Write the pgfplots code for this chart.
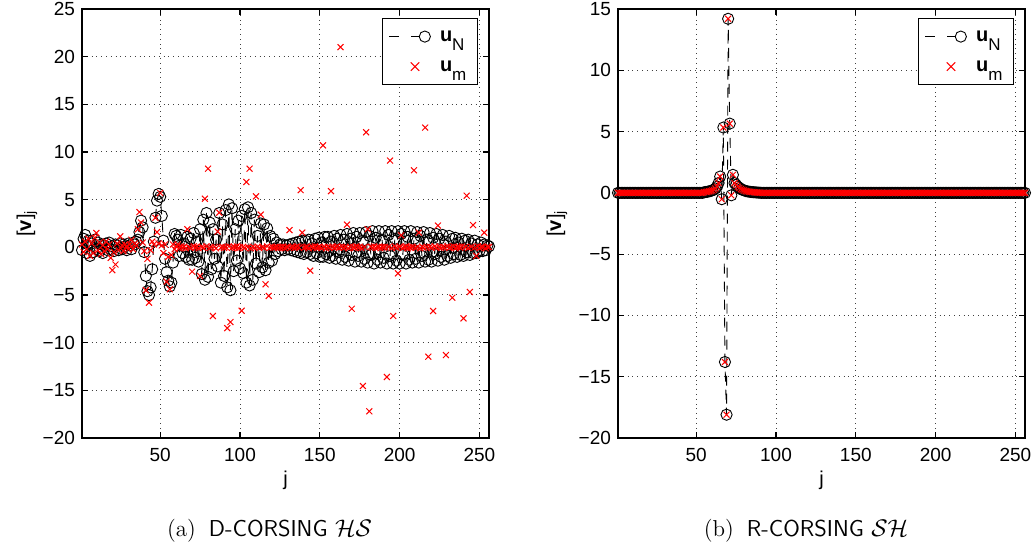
\documentclass[border=0pt]{standalone}
\usepackage{fontspec}
\usepackage{pgfplots}
\usepackage{pgfplotstable}
\pgfplotsset{compat=1.18}
\newfontfamily\hv{Liberation Sans}

% left panel: j, u_N, u_m
\pgfplotstableread[row sep=\\]{
j uN um\\
1 -0.3 0.3\\ 2 0.9 -0.5\\ 3 1.3 0.6\\ 4 -0.6 -0.2\\ 5 0.7 0.9\\ 6 -0.9 -0.9\\ 7 0.4 0.4\\ 8 -0.5 -0.6\\ 9 0.8 1.0\\ 10 -0.2 1.5\\
11 0.5 -0.3\\ 12 -0.4 0.5\\ 13 0.3 -0.7\\ 14 -0.6 0.2\\ 15 0.2 -0.4\\ 16 0.4 0.6\\ 17 -0.3 -0.2\\ 18 0.5 0.3\\ 19 -0.2 -1.1\\ 20 0.1 -2.4\\
21 -0.4 -0.5\\ 22 0.3 -1.8\\ 23 0.2 0.4\\ 24 -0.3 -0.3\\ 25 0.4 1.15\\ 26 -0.2 0.2\\ 27 0.3 -0.4\\ 28 0.1 0.3\\ 29 -0.3 0.1\\ 30 0.4 -0.2\\
31 0.2 0.3\\ 32 -0.2 0.8\\ 33 0.5 -0.2\\ 34 0.3 0.4\\ 35 0.6 0.2\\ 36 0.8 1.9\\ 37 1.6 3.7\\ 38 2.8 2.6\\ 39 2.1 0.5\\ 40 -0.5 -0.4\\
41 -3.0 -4.5\\ 42 -4.6 -1.2\\ 43 -5.0 -5.8\\ 44 -4.2 -0.3\\ 45 -2.3 0.6\\ 46 0.6 0.3\\ 47 3.1 3.1\\ 48 4.9 1.6\\ 49 5.6 0.4\\ 50 5.3 5.7\\
51 3.3 0.2\\ 52 0.7 -0.6\\ 53 -1.2 0.3\\ 54 -2.6 -3.6\\ 55 -3.5 -1.0\\ 56 -4.1 -4.4\\ 57 -3.7 -0.8\\ 58 -1.6 0.3\\ 59 1.4 -0.2\\ 60 1.2 0.1\\
61 0.8 0.3\\ 62 -0.9 -0.1\\ 63 1.3 0.1\\ 64 -0.6 -0.03\\ 65 0.4 0.06\\ 66 -1.0 -0.1\\ 67 1.1 1.9\\ 68 -1.3 0.03\\ 69 0.9 -0.06\\ 70 -1.3 -2.55\\
71 1.5 0.1\\ 72 -1.1 -0.03\\ 73 0.6 0.06\\ 74 -1.5 -0.1\\ 75 1.9 -3.0\\ 76 -2.8 0.06\\ 77 2.9 -0.03\\ 78 -3.4 5.1\\ 79 3.6 0.1\\ 80 -3.1 8.25\\
81 2.6 -0.06\\ 82 -2.3 0.03\\ 83 1.9 -7.2\\ 84 -1.2 0.06\\ 85 0.8 -0.1\\ 86 -2.0 1.65\\ 87 3.6 3.64\\ 88 -3.7 -0.03\\ 89 2.4 0.06\\ 90 -3.0 -0.06\\
91 3.9 0.03\\ 92 -4.2 -8.47\\ 93 4.5 0.1\\ 94 -4.5 -7.84\\ 95 4.1 -0.06\\ 96 -2.5 0.06\\ 97 1.9 -0.03\\ 98 -1.4 0.1\\ 99 2.8 -0.1\\ 100 -2.2 0.03\\
101 3.3 -6.65\\ 102 -2.7 0.06\\ 103 4.0 -0.06\\ 104 -3.7 6.85\\ 105 4.2 0.03\\ 106 -4.0 8.25\\ 107 3.6 -0.1\\ 108 -3.4 0.06\\ 109 2.9 -0.03\\ 110 -1.7 5.35\\
111 1.2 0.06\\ 112 -2.6 -0.06\\ 113 2.5 3.43\\ 114 -2.1 0.03\\ 115 2.4 -0.06\\ 116 -2.4 -3.88\\ 117 2.0 0.1\\ 118 -1.6 -5.1\\ 119 1.2 -0.03\\ 120 -1.4 0.06\\
121 0.9 -0.03\\ 122 -0.7 0.03\\ 123 0.5 0.06\\ 124 -0.4 -0.06\\ 125 0.3 0.03\\ 126 -0.2 -0.03\\ 127 0.3 0.06\\ 128 -0.3 -0.1\\ 129 0.2 0.03\\ 130 -0.2 0.06\\
131 0.3 1.8\\ 132 -0.3 -0.03\\ 133 0.4 0.06\\ 134 -0.4 -0.06\\ 135 0.5 0.03\\ 136 -0.5 0.1\\ 137 0.6 -0.03\\ 138 -0.6 6.0\\ 139 0.7 1.54\\ 140 -0.7 -0.06\\
141 0.7 0.03\\ 142 -0.5 0.06\\ 143 0.8 -0.1\\ 144 -0.7 -2.45\\ 145 0.4 0.06\\ 146 -0.9 -0.03\\ 147 0.9 0.1\\ 148 -0.6 -0.06\\ 149 1.0 0.03\\ 150 -1.0 0.06\\
151 0.5 -0.06\\ 152 -1.0 10.7\\ 153 1.1 0.03\\ 154 -0.7 -0.1\\ 155 1.1 0.06\\ 156 -1.1 -0.03\\ 157 0.6 5.9\\ 158 -0.9 0.06\\ 159 1.2 -0.06\\ 160 -1.2 0.03\\
161 0.9 0.1\\ 162 -0.5 -0.03\\ 163 1.3 21.0\\ 164 -1.3 0.06\\ 165 0.8 -0.06\\ 166 -1.0 0.03\\ 167 1.4 2.38\\ 168 -1.4 -0.1\\ 169 0.9 0.06\\ 170 -0.8 -6.44\\
171 1.5 0.03\\ 172 -1.5 -0.06\\ 173 1.1 0.1\\ 174 -0.9 -0.03\\ 175 1.5 0.06\\ 176 -1.5 -0.06\\ 177 0.7 -14.55\\ 178 -1.2 0.03\\ 179 1.6 12.07\\ 180 -1.6 1.9\\
181 1.2 -17.2\\ 182 -0.8 0.06\\ 183 1.7 -0.03\\ 184 -1.7 0.1\\ 185 1.0 -0.06\\ 186 -1.3 0.03\\ 187 1.7 0.06\\ 188 -1.6 -0.1\\ 189 0.8 0.03\\ 190 -1.1 -0.03\\
191 1.7 0.06\\ 192 -1.7 -13.6\\ 193 1.3 0.03\\ 194 -0.9 9.1\\ 195 1.7 -0.06\\ 196 -1.7 -7.2\\ 197 0.9 0.1\\ 198 -1.4 -0.03\\ 199 1.7 -2.73\\ 200 -1.7 0.06\\
201 1.4 1.26\\ 202 -0.8 -0.06\\ 203 1.7 0.03\\ 204 -1.7 0.1\\ 205 1.1 -0.1\\ 206 -1.3 0.03\\ 207 1.7 -0.03\\ 208 -1.6 0.06\\ 209 0.9 8.08\\ 210 -1.2 -0.06\\
211 1.6 0.03\\ 212 -1.6 1.54\\ 213 1.2 -0.1\\ 214 -0.9 0.06\\ 215 1.6 -0.03\\ 216 -1.5 12.56\\ 217 0.8 0.03\\ 218 -1.3 -11.47\\ 219 1.5 0.06\\ 220 -1.5 -0.06\\
221 1.0 -6.68\\ 222 -0.7 0.1\\ 223 1.4 -0.03\\ 224 -1.4 2.28\\ 225 0.9 0.03\\ 226 -1.0 -0.06\\ 227 1.3 0.06\\ 228 -1.3 -0.03\\ 229 0.6 -11.3\\ 230 -0.9 0.1\\
231 1.2 -0.06\\ 232 -1.1 0.03\\ 233 0.9 -5.28\\ 234 -0.7 0.06\\ 235 1.0 -0.1\\ 236 -1.0 0.03\\ 237 0.5 0.06\\ 238 -0.8 -0.03\\ 239 0.9 0.1\\ 240 -0.9 -7.45\\
241 0.7 0.03\\ 242 -0.5 5.42\\ 243 0.8 -0.06\\ 244 -0.8 -4.69\\ 245 0.4 0.06\\ 246 -0.6 2.34\\ 247 0.7 -0.03\\ 248 -0.6 -0.9\\ 249 0.3 0.1\\ 250 -0.4 -0.06\\
251 0.5 0.03\\ 252 -0.4 0.06\\ 253 0.3 1.54\\ 254 -0.3 -0.1\\ 255 0.2 0.06\\ 256 0.1 0.03\\
}\leftdata

% right panel: j, v (u_N and u_m coincide)
\pgfplotstableread[row sep=\\]{
j v\\
1 0\\ 2 0\\ 3 0\\ 4 0\\ 5 0\\ 6 0\\ 7 0\\ 8 0\\ 9 0\\ 10 0\\
11 0\\ 12 0\\ 13 0\\ 14 0\\ 15 0\\ 16 0\\ 17 0\\ 18 0\\ 19 0\\ 20 0\\
21 0\\ 22 0\\ 23 0\\ 24 0\\ 25 0\\ 26 0\\ 27 0\\ 28 0\\ 29 0\\ 30 0\\
31 0\\ 32 0\\ 33 0\\ 34 0\\ 35 0\\ 36 0\\ 37 0\\ 38 0\\ 39 0\\ 40 0\\
41 0\\ 42 0\\ 43 0\\ 44 0\\ 45 0\\ 46 0\\ 47 0\\ 48 0\\ 49 0\\ 50 0\\
51 0\\ 52 0\\ 53 0\\ 54 0\\ 55 0.05\\ 56 0.07\\ 57 0.09\\ 58 0.12\\ 59 0.15\\ 60 0.2\\
61 0.25\\ 62 0.35\\ 63 0.5\\ 64 0.8\\ 65 1.33\\ 66 -0.52\\ 67 5.33\\ 68 -13.8\\ 69 -18.1\\ 70 14.2\\
71 5.65\\ 72 -0.2\\ 73 1.47\\ 74 0.8\\ 75 0.65\\ 76 0.5\\ 77 0.4\\ 78 0.3\\ 79 0.25\\ 80 0.2\\
81 0.15\\ 82 0.12\\ 83 0.1\\ 84 0.08\\ 85 0.06\\ 86 0.05\\ 87 0.04\\ 88 0.03\\ 89 0.02\\ 90 0.01\\
91 0\\ 92 0\\ 93 0\\ 94 0\\ 95 0\\ 96 0\\ 97 0\\ 98 0\\ 99 0\\ 100 0\\
101 0\\ 102 0\\ 103 0\\ 104 0\\ 105 0\\ 106 0\\ 107 0\\ 108 0\\ 109 0\\ 110 0\\
111 0\\ 112 0\\ 113 0\\ 114 0\\ 115 0\\ 116 0\\ 117 0\\ 118 0\\ 119 0\\ 120 0\\
121 0\\ 122 0\\ 123 0\\ 124 0\\ 125 0\\ 126 0\\ 127 0\\ 128 0\\ 129 0\\ 130 0\\
131 0\\ 132 0\\ 133 0\\ 134 0\\ 135 0\\ 136 0\\ 137 0\\ 138 0\\ 139 0\\ 140 0\\
141 0\\ 142 0\\ 143 0\\ 144 0\\ 145 0\\ 146 0\\ 147 0\\ 148 0\\ 149 0\\ 150 0\\
151 0\\ 152 0\\ 153 0\\ 154 0\\ 155 0\\ 156 0\\ 157 0\\ 158 0\\ 159 0\\ 160 0\\
161 0\\ 162 0\\ 163 0\\ 164 0\\ 165 0\\ 166 0\\ 167 0\\ 168 0\\ 169 0\\ 170 0\\
171 0\\ 172 0\\ 173 0\\ 174 0\\ 175 0\\ 176 0\\ 177 0\\ 178 0\\ 179 0\\ 180 0\\
181 0\\ 182 0\\ 183 0\\ 184 0\\ 185 0\\ 186 0\\ 187 0\\ 188 0\\ 189 0\\ 190 0\\
191 0\\ 192 0\\ 193 0\\ 194 0\\ 195 0\\ 196 0\\ 197 0\\ 198 0\\ 199 0\\ 200 0\\
201 0\\ 202 0\\ 203 0\\ 204 0\\ 205 0\\ 206 0\\ 207 0\\ 208 0\\ 209 0\\ 210 0\\
211 0\\ 212 0\\ 213 0\\ 214 0\\ 215 0\\ 216 0\\ 217 0\\ 218 0\\ 219 0\\ 220 0\\
221 0\\ 222 0\\ 223 0\\ 224 0\\ 225 0\\ 226 0\\ 227 0\\ 228 0\\ 229 0\\ 230 0\\
231 0\\ 232 0\\ 233 0\\ 234 0\\ 235 0\\ 236 0\\ 237 0\\ 238 0\\ 239 0\\ 240 0\\
241 0\\ 242 0\\ 243 0\\ 244 0\\ 245 0\\ 246 0\\ 247 0\\ 248 0\\ 249 0\\ 250 0\\
251 0\\ 252 0\\ 253 0\\ 254 0\\ 255 0\\ 256 0\\
}\rightdata

\pgfplotsset{
  panel/.style={
    scale only axis, width=203.5pt, height=214.5pt,
    xmin=1, xmax=256,
    xtick={50,100,150,200,250},
    grid=major,
    major grid style={dotted, black!75, line width=0.5pt},
    axis line style={line width=0.6pt},
    major tick length=3pt,
    tick style={line width=0.6pt, black},
    ticklabel style={font=\hv\fontsize{9.5}{11}\selectfont},
    /pgf/number format/assume math mode=true,
    xticklabel style={yshift=-1.5pt},
    xlabel={j},
    label style={font=\hv\fontsize{10}{12}\selectfont},
    xlabel style={at={(axis description cs:0.5,-0.098)}, anchor=center},
    ylabel={[\textbf{v}]\textsubscript{j}},
    legend style={at={(1,1)}, xshift=-5.5pt, yshift=-4.5pt, anchor=north east,
      draw=black, line width=0.6pt, font=\hv\fontsize{10}{12}\selectfont,
      inner xsep=3pt, inner ysep=2pt, row sep=1pt,
      nodes={inner sep=2.5pt, text height=7pt, text depth=2pt}},
    legend cell align=left,
  },
  uN/.style={black, dash pattern=on 5pt off 4pt, line width=0.45pt,
    mark=o, mark size=2.8pt, mark options={solid, line width=0.45pt},
    legend image code/.code={
      \draw[black, line width=0.45pt, dash pattern=on 5pt off 6pt] (0pt,0pt) -- (15pt,0pt);
      \draw[black, solid, line width=0.45pt] (17.9pt,0pt) circle (2.8pt);
      \path[draw=none, fill=none] (0pt,0pt) -- (23pt,0pt);}},
  um/.style={red, only marks, mark=x, mark size=2.1pt, mark options={line width=0.5pt},
    legend image code/.code={
      \draw[red, solid, line width=0.5pt] (10.9pt,-2.1pt) -- (15.1pt,2.1pt) (10.9pt,2.1pt) -- (15.1pt,-2.1pt);
      \path[draw=none, fill=none] (0pt,0pt) -- (23pt,0pt);}},
}

\newcommand{\uN}{{\bfseries u}\raisebox{-0.8ex}{\fontsize{8.5}{9}\selectfont N}}
\newcommand{\um}{{\bfseries u}\raisebox{-0.8ex}{\fontsize{8.5}{9}\selectfont m}}

\begin{document}
\begin{tikzpicture}
\useasboundingbox (0,0) rectangle (516pt,274.5pt);

\begin{axis}[panel, at={(41pt,55.5pt)}, anchor=south west,
  ymin=-20, ymax=25, ytick={-20,-15,...,25},
  yticklabels={−20,−15,−10,−5,0,5,10,15,20,25},
  ylabel style={at={(axis description cs:-0.135,0.5)}, anchor=center}]
\addplot[uN] table[x=j, y=uN] {\leftdata};
\addlegendentry{\uN}
\addplot[um] table[x=j, y=um] {\leftdata};
\addlegendentry{\um}
\end{axis}

\begin{axis}[panel, at={(309pt,55.5pt)}, anchor=south west,
  ymin=-20, ymax=15, ytick={-20,-15,...,15},
  yticklabels={−20,−15,−10,−5,0,5,10,15},
  ylabel style={at={(axis description cs:-0.15,0.5)}, anchor=center}]
\addplot[uN] table[x=j, y=v] {\rightdata};
\addlegendentry{\uN}
\addplot[um] table[x=j, y=v] {\rightdata};
\addlegendentry{\um}
\end{axis}

\node[anchor=base, font=\fontsize{11.5}{14}\selectfont] at (134.75pt,6pt)
  {(a)\hspace{6.5pt}{\sffamily D-CORSING} $\mathcal{HS}$};
\node[anchor=base, font=\fontsize{11.5}{14}\selectfont] at (403pt,6pt)
  {(b)\hspace{6.5pt}{\sffamily R-CORSING} $\mathcal{SH}$};
\end{tikzpicture}
\end{document}
